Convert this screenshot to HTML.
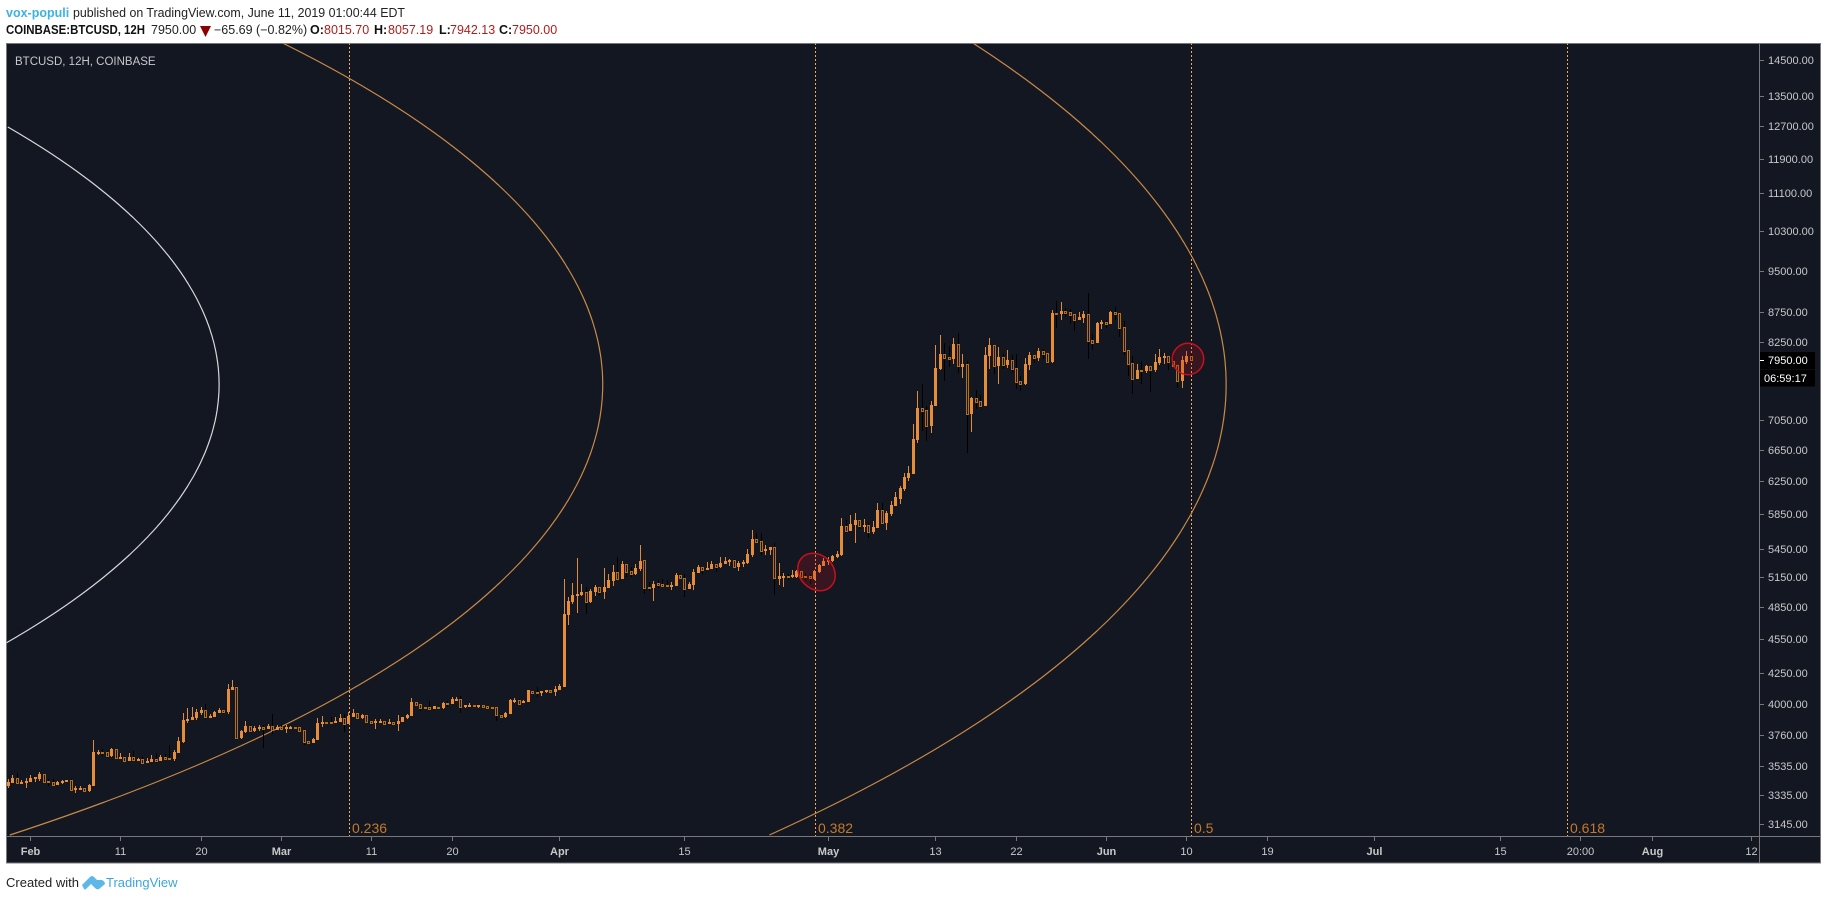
<!DOCTYPE html>
<html>
<head>
<meta charset="utf-8">
<title>BTCUSD 12H chart</title>
<style>
html,body{margin:0;padding:0;background:#fff;width:1828px;height:900px;overflow:hidden}
svg{display:block;font-family:"Liberation Sans",sans-serif}
</style>
</head>
<body>
<svg id="chart" width="1828" height="900" viewBox="0 0 1828 900" xmlns="http://www.w3.org/2000/svg">
  <defs><clipPath id="plot-clip"><rect x="6.5" y="43.5" width="1753" height="793"/></clipPath></defs>

  <g font-size="12.5">
    <text x="6" y="17" fill="#3bb3e4" font-weight="bold">vox-populi</text>
    <text x="73" y="17" fill="#222" textLength="332" lengthAdjust="spacingAndGlyphs">published on TradingView.com, June 11, 2019 01:00:44 EDT</text>
    <text x="6" y="34" fill="#111" font-weight="bold" textLength="139" lengthAdjust="spacingAndGlyphs">COINBASE:BTCUSD, 12H</text>
    <text x="151" y="34" fill="#222">7950.00</text>
    <polygon points="200,26 211,26 205.5,37" fill="#8b0000"/>
    <text x="214" y="34" fill="#222">−65.69 (−0.82%)</text>
    <text x="310" y="34" fill="#111" font-weight="bold">O:</text>
    <text x="324" y="34" fill="#b01c1c">8015.70</text>
    <text x="374" y="34" fill="#111" font-weight="bold">H:</text>
    <text x="388" y="34" fill="#b01c1c">8057.19</text>
    <text x="439" y="34" fill="#111" font-weight="bold">L:</text>
    <text x="450" y="34" fill="#b01c1c">7942.13</text>
    <text x="499" y="34" fill="#111" font-weight="bold">C:</text>
    <text x="512" y="34" fill="#b01c1c">7950.00</text>
  </g>

  <rect x="6.5" y="43.5" width="1814" height="819.5" fill="#131722" stroke="#787878" stroke-width="1"/>
  <line x1="6" y1="836.5" x2="1821" y2="836.5" stroke="#787878"/>
  <line x1="1759.5" y1="43" x2="1759.5" y2="863" stroke="#787878"/>

  <g id="fib-lines" clip-path="url(#plot-clip)"></g>
  <g id="fib-arcs" clip-path="url(#plot-clip)"></g>
  <g id="candles" clip-path="url(#plot-clip)"></g>

  <g>
    <ellipse cx="816.5" cy="572" rx="20.4" ry="16.9" transform="rotate(45 816.5 572)" fill="rgba(205,20,30,0.2)" stroke="#c8101c" stroke-width="1.5"/>
    <circle cx="1188" cy="359" r="15.7" fill="rgba(205,20,30,0.2)" stroke="#c8101c" stroke-width="1.5"/>
  </g>

  <g id="price-axis"></g>
  <g id="time-axis"></g>

  <text x="15" y="65" fill="#c8c8c8" font-size="11.5">BTCUSD, 12H, COINBASE</text>

  <g>
    <rect x="1760" y="352" width="55" height="17" fill="#000"/>
    <rect x="1760" y="369.5" width="55" height="17" fill="#000"/>
    <line x1="1760" y1="360.5" x2="1764" y2="360.5" stroke="#fff"/>
    <text x="1768" y="364" fill="#fff" font-size="11">7950.00</text>
    <text x="1764" y="382" fill="#fff" font-size="11">06:59:17</text>
  </g>

  <g>
    <text x="6" y="887" fill="#222" font-size="13">Created with</text>
    <path d="M82 885 L90 877 Q92 875 94 877 L97 880 L101 880 Q103 880 104.5 882 L105 884 L99 889 Q97 890 95 888 L91 884 L86 889 Q85 890 84 889 Z" fill="#5cb8e6"/>
    <text x="106" y="887" fill="#3ba7dd" font-size="13">TradingView</text>
  </g>
</svg>

<script>
// Chart data (BTCUSD 12H bars)
const opens = [3393,3416,3448,3414,3414,3423,3448,3441,3473,3425,
3420,3402,3418,3423,3432,3377,3371,3377,3359,3395,
3627,3632,3632,3603,3651,3591,3593,3567,3593,3576,
3581,3555,3560,3581,3567,3593,3588,3581,3624,3703,
3862,3872,3885,3924,3947,3898,3898,3927,3950,3934,
4112,4137,3735,3777,3826,3787,3800,3818,3803,3826,
3798,3821,3805,3811,3816,3816,3795,3710,3698,3720,
3841,3856,3856,3849,3856,3885,3841,3893,3924,3885,
3911,3864,3851,3856,3862,3844,3856,3844,3859,3888,
3903,4014,3995,3974,3974,3958,3974,3966,4006,3998,
4033,4036,3974,3985,3990,3985,3990,3982,3974,3972,
3914,3895,3922,4019,4033,4009,4014,4104,4096,4090,
4096,4112,4096,4112,4137,4779,4905,4964,4974,5000,
4905,5003,5053,5003,5043,5115,5206,5135,5290,5216,
5186,5234,5329,5053,5043,5094,5084,5077,5070,5064,
5176,5142,5036,5074,5197,5259,5230,5238,5290,5259,
5290,5322,5333,5259,5297,5301,5387,5562,5536,5430,
5441,5474,5135,5155,5166,5152,5159,5217,5166,5162,
5135,5207,5269,5319,5322,5365,5383,5710,5653,5721,
5778,5710,5721,5641,5687,5896,5744,5849,5942,6024,
6146,6283,6333,6779,7227,7198,6971,7256,7813,8051,
8003,7971,8214,7844,7892,7141,7372,7328,7256,8019,
8198,7860,8003,7876,7955,7828,7628,7582,7876,8035,
7987,8100,8067,7923,8739,8722,8774,8757,8722,8618,
8653,8722,8280,8231,8549,8583,8549,8757,8739,8497,
8116,7908,7658,7797,7781,7860,7797,7908,7987,8019,
7939,7876,7628,7923,8015.70];

const highs = [3439,3466,3480,3432,3448,3466,3452,3489,3473,3441,
3439,3425,3434,3432,3439,3393,3391,3380,3407,3720,
3646,3653,3636,3663,3653,3622,3596,3624,3639,3591,
3596,3588,3610,3622,3610,3617,3683,3646,3740,3927,
3966,3977,3955,3974,3998,3916,3945,3966,3950,4161,
4195,4142,3795,3864,3834,3823,3831,3834,3841,3919,
3834,3834,3831,3826,3816,3816,3800,3710,3735,3885,
3903,3856,3898,3895,3916,3919,3934,3955,3924,3922,
3911,3864,3877,3877,3867,3877,3856,3911,3895,3919,
4046,4014,3995,3974,4019,3982,3974,4014,4019,4054,
4054,4063,3987,4006,3990,3987,3990,3982,3974,3972,
3919,3937,4036,4049,4038,4030,4110,4104,4134,4104,
4112,4112,4145,4162,5135,4955,5094,5355,5084,5053,
5033,5074,5053,5248,5186,5280,5365,5322,5290,5259,
5290,5497,5329,5108,5115,5125,5132,5125,5098,5197,
5176,5186,5098,5234,5280,5259,5312,5322,5290,5365,
5365,5344,5344,5322,5333,5448,5664,5630,5630,5496,
5474,5518,5301,5197,5186,5227,5227,5217,5197,5186,
5227,5290,5355,5365,5387,5430,5802,5778,5837,5860,
5778,5790,5744,5767,5977,5977,5884,6000,6110,6184,
6347,6437,6999,7476,7582,7256,7328,8198,8363,8231,
8181,8313,8396,8051,7939,7387,7491,7417,8165,8313,
8198,8165,8051,8116,8035,8051,7704,7987,8083,8035,
8149,8132,8067,8792,8951,8933,8827,8809,8722,8757,
8774,9095,8380,8583,8618,8618,8774,8845,8739,8600,
8116,8019,7892,7939,7876,7860,8051,8132,8067,8019,
8035,7876,8019,8100,8057.19];

const lows = [3382,3416,3411,3407,3380,3420,3423,3430,3420,3393,
3400,3400,3409,3423,3366,3348,3366,3359,3352,3395,
3610,3605,3586,3593,3589,3591,3567,3567,3574,3564,
3550,3552,3560,3555,3567,3579,3581,3569,3624,3698,
3849,3872,3875,3911,3882,3888,3895,3927,3922,3922,
4112,3720,3730,3770,3775,3780,3787,3661,3803,3765,
3795,3803,3772,3805,3811,3787,3683,3695,3698,3720,
3818,3851,3849,3849,3856,3780,3841,3893,3888,3877,
3856,3831,3803,3846,3841,3841,3844,3787,3859,3880,
3903,3990,3945,3969,3950,3958,3969,3961,3977,3998,
4019,3929,3963,3985,3985,3966,3974,3955,3972,3867,
3888,3888,3922,4009,3998,4006,4014,4085,4057,4063,
4090,4096,4063,4112,4137,4684,4885,4798,4964,4789,
4895,4964,4974,4935,5043,5064,5135,5135,5155,5155,
5176,5216,4977,5007,4915,5039,5057,5064,5023,5064,
5135,4955,5029,5023,5193,5186,5227,5238,5207,5248,
5290,5269,5259,5217,5255,5290,5369,5533,5387,5387,
5387,4974,5074,5053,5125,5145,5145,5115,5115,5084,
5125,5197,5269,5280,5312,5351,5376,5630,5653,5518,
5675,5641,5574,5619,5687,5721,5664,5825,5942,5965,
6122,6245,6333,6738,6902,6765,6875,7256,7797,7628,
7844,7892,7750,7674,6604,6888,7212,7227,7256,7813,
7735,7582,7813,7828,7766,7506,7476,7567,7797,7908,
7939,7971,7892,7908,8480,8618,8670,8549,8430,8618,
8566,7971,8116,8231,8464,8480,8549,8618,8330,8035,
7704,7432,7658,7582,7750,7461,7766,7876,7892,7797,
7860,7521,7521,7892,7942.13];

const closes = [3423,3448,3416,3423,3427,3448,3452,3473,3423,3418,
3402,3420,3427,3432,3368,3382,3380,3361,3400,3632,
3634,3627,3603,3653,3591,3596,3567,3596,3574,3581,
3555,3567,3581,3569,3596,3581,3584,3629,3713,3872,
3880,3895,3934,3947,3895,3906,3937,3950,3937,4120,
4137,3735,3787,3826,3790,3813,3818,3805,3828,3795,
3818,3805,3821,3818,3811,3790,3708,3700,3730,3846,
3856,3851,3849,3867,3888,3844,3903,3927,3890,3911,
3859,3849,3862,3867,3844,3856,3844,3864,3895,3911,
4014,3993,3969,3969,3958,3982,3969,4006,3998,4038,
4041,3977,3987,3990,3985,3987,3974,3969,3972,3914,
3895,3924,4028,4033,4001,4022,4110,4090,4090,4104,
4112,4096,4123,4148,4789,4915,4974,4984,5003,4905,
5013,5053,5003,5053,5125,5206,5135,5290,5206,5186,
5248,5322,5046,5046,5084,5074,5064,5067,5077,5176,
5139,5036,5084,5207,5259,5230,5248,5290,5259,5301,
5322,5333,5262,5301,5312,5398,5562,5533,5430,5448,
5474,5139,5166,5166,5155,5176,5217,5155,5155,5149,
5217,5280,5322,5333,5376,5398,5710,5653,5732,5778,
5710,5721,5641,5698,5896,5744,5860,5954,6049,6159,
6296,6347,6792,7227,7184,6971,7270,7828,8051,7987,
7971,8214,7860,7892,7141,7372,7314,7256,8035,8198,
7860,8003,7876,7955,7813,7613,7582,7892,8035,7987,
8100,8051,7923,8739,8722,8774,8739,8705,8618,8670,
8722,8264,8231,8566,8583,8549,8757,8722,8480,8100,
7892,7658,7797,7781,7860,7797,7923,8003,8019,7923,
7860,7628,7955,8019,7950];

const priceTicks = [14500,13500,12700,11900,11100,10300,9500,8750,8250,7050,6650,6250,5850,5450,5150,4850,4550,4250,4000,3760,3535,3335,3145];
const timeLabels = ["Feb","11","20","Mar","11","20","Apr","15","May","13","22","Jun","10","19","Jul","15","20:00","Aug","12"];
const timeBars = [5,25,43,61,81,99,123,151,183,207,225,245,263,281,305,333,351,367,389];
const fibTimeLevels = [0.236,0.382,0.5,0.618];
const fibArcRadii = [0.64,0.76,0.955];
const fibArcColors = ["#d8d8d8","#c98a45","#c98a45"];

const NS = "http://www.w3.org/2000/svg";
const yOf = p => 824 - 500 * Math.log(p / 3145);
const xOf = i => 8 + 4.48 * i;
const fibX = l => -403 + 3189 * l;
function make(tag, attrs, parent, text) {
  const el = document.createElementNS(NS, tag);
  for (const k in attrs) el.setAttribute(k, attrs[k]);
  if (text !== undefined) el.textContent = text;
  parent.appendChild(el);
  return el;
}

const candleGroup = document.getElementById("candles");
opens.forEach((o, i) => {
  const c = closes[i], up = c >= o;
  const cx = Math.round(xOf(i));
  const top = Math.round(yOf(Math.max(o, c)));
  const bot = Math.round(yOf(Math.min(o, c)));
  const wick = make("line", {x1: cx + .5, x2: cx + .5, y1: Math.round(yOf(highs[i])), y2: Math.round(yOf(lows[i])), stroke: up ? "#e08a3c" : "#000"}, candleGroup);
  
  
  const h = Math.max(bot - top, 1);
  const small = h < 2;
  const body = up || small
    ? make("rect", {x: cx - 1, y: top, width: 3, height: Math.max(h, 2), fill: up ? "#e88d37" : "#b8700f"}, candleGroup)
    : make("rect", {x: cx - .5, y: top + .5, width: 2, height: h, fill: "#131722", stroke: "#b8700f"}, candleGroup);
  
  
});

const fibLineGroup = document.getElementById("fib-lines");
fibTimeLevels.forEach(l => {
  const x = Math.floor(fibX(l)) + .5;
  const line = make("line", {x1: x, x2: x, y1: 43, y2: 836, stroke: "#f2a65a", "stroke-dasharray": "2 2"}, fibLineGroup);
  
  
  const label = make("text", {x: x + 2.5, y: 833, fill: "#c5782a", "font-size": 14}, fibLineGroup, String(l));
  
  
});

const arcGroup = document.getElementById("fib-arcs");
const arcCenterX = -1827, arcBase = 3197, arcRatio = 0.281;
const arcCenterYs = [384.5, 384.5, 384.5];
const arcStretch = [1.012, 1.008, 0.998];
fibArcRadii.forEach((r, i) => {
  const rx = arcBase * r, ry = rx * arcRatio * arcStretch[i], cy = arcCenterYs[i];
  const pts = [];
  for (let y = 43; y <= 836; y += 2) {
    const t = (y - cy) / ry;
    if (Math.abs(t) >= 1) continue;
    const x = arcCenterX + rx * Math.sqrt(1 - t * t);
    if (x >= 6) pts.push(x.toFixed(1) + "," + y);
  }
  const arc = make("polyline", {points: pts.join(" "), fill: "none", stroke: fibArcColors[i], "stroke-width": 1.2}, arcGroup);
  
  
});

const priceAxis = document.getElementById("price-axis");
priceTicks.forEach(p => {
  const y = yOf(p), ry = Math.round(y) + .5;
  const tick = make("line", {x1: 1760, x2: 1764, y1: ry, y2: ry, stroke: "#787878"}, priceAxis);
  
  
  const label = make("text", {x: 1768, y: ry + 3.5, fill: "#c8c8c8", "font-size": 11}, priceAxis, p.toFixed(2));
  
  
});

const timeAxis = document.getElementById("time-axis");
timeLabels.forEach((t, i) => {
  const x = Math.round(xOf(timeBars[i])) + .5;
  const tick = make("line", {x1: x, x2: x, y1: 837, y2: 841, stroke: "#787878"}, timeAxis);
  
  
  const isMonth = /^[A-Z]/.test(t);
  const label = make("text", {x: x, y: 855, fill: "#c8c8c8", "font-size": 11, "text-anchor": "middle", "font-weight": isMonth ? "bold" : "normal"}, timeAxis, t);
  
  
});
</script>
</body>
</html>
